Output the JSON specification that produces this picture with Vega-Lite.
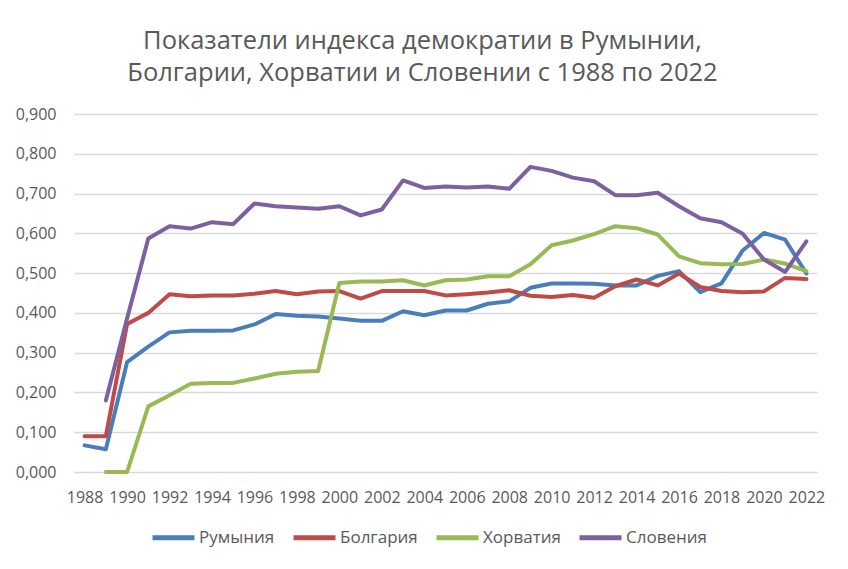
{
  "$schema": "https://vega.github.io/schema/vega-lite/v6.json",
  "width": 743,
  "height": 358,
  "autosize": {"type": "none"},
  "padding": {"left": 74, "top": 114, "right": 31, "bottom": 97},
  "background": "white",
  "config": {
    "font": "Open Sans",
    "view": {"stroke": null}
  },
  "title": {
    "text": ["Показатели индекса демократии в Румынии,", "Болгарии, Хорватии и Словении с 1988 по 2022"],
    "font": "Open Sans",
    "fontSize": 25.5,
    "fontWeight": "normal",
    "color": "#595959",
    "anchor": "middle",
    "frame": "group",
    "dx": -23,
    "offset": 20,
    "lineHeight": 32
  },
  "datasets": {
    "d": [
      {"year": 1988, "country": "Румыния", "value": 0.067},
      {"year": 1989, "country": "Румыния", "value": 0.057},
      {"year": 1990, "country": "Румыния", "value": 0.276},
      {"year": 1991, "country": "Румыния", "value": 0.315},
      {"year": 1992, "country": "Румыния", "value": 0.351},
      {"year": 1993, "country": "Румыния", "value": 0.355},
      {"year": 1994, "country": "Румыния", "value": 0.355},
      {"year": 1995, "country": "Румыния", "value": 0.356},
      {"year": 1996, "country": "Румыния", "value": 0.371},
      {"year": 1997, "country": "Румыния", "value": 0.397},
      {"year": 1998, "country": "Румыния", "value": 0.393},
      {"year": 1999, "country": "Румыния", "value": 0.391},
      {"year": 2000, "country": "Румыния", "value": 0.386},
      {"year": 2001, "country": "Румыния", "value": 0.380},
      {"year": 2002, "country": "Румыния", "value": 0.380},
      {"year": 2003, "country": "Румыния", "value": 0.404},
      {"year": 2004, "country": "Румыния", "value": 0.394},
      {"year": 2005, "country": "Румыния", "value": 0.406},
      {"year": 2006, "country": "Румыния", "value": 0.406},
      {"year": 2007, "country": "Румыния", "value": 0.423},
      {"year": 2008, "country": "Румыния", "value": 0.429},
      {"year": 2009, "country": "Румыния", "value": 0.463},
      {"year": 2010, "country": "Румыния", "value": 0.474},
      {"year": 2011, "country": "Румыния", "value": 0.474},
      {"year": 2012, "country": "Румыния", "value": 0.473},
      {"year": 2013, "country": "Румыния", "value": 0.469},
      {"year": 2014, "country": "Румыния", "value": 0.469},
      {"year": 2015, "country": "Румыния", "value": 0.493},
      {"year": 2016, "country": "Румыния", "value": 0.505},
      {"year": 2017, "country": "Румыния", "value": 0.452},
      {"year": 2018, "country": "Румыния", "value": 0.474},
      {"year": 2019, "country": "Румыния", "value": 0.557},
      {"year": 2020, "country": "Румыния", "value": 0.601},
      {"year": 2021, "country": "Румыния", "value": 0.584},
      {"year": 2022, "country": "Румыния", "value": 0.499},

      {"year": 1988, "country": "Болгария", "value": 0.090},
      {"year": 1989, "country": "Болгария", "value": 0.090},
      {"year": 1990, "country": "Болгария", "value": 0.372},
      {"year": 1991, "country": "Болгария", "value": 0.400},
      {"year": 1992, "country": "Болгария", "value": 0.447},
      {"year": 1993, "country": "Болгария", "value": 0.442},
      {"year": 1994, "country": "Болгария", "value": 0.444},
      {"year": 1995, "country": "Болгария", "value": 0.444},
      {"year": 1996, "country": "Болгария", "value": 0.448},
      {"year": 1997, "country": "Болгария", "value": 0.455},
      {"year": 1998, "country": "Болгария", "value": 0.447},
      {"year": 1999, "country": "Болгария", "value": 0.454},
      {"year": 2000, "country": "Болгария", "value": 0.455},
      {"year": 2001, "country": "Болгария", "value": 0.436},
      {"year": 2002, "country": "Болгария", "value": 0.455},
      {"year": 2003, "country": "Болгария", "value": 0.455},
      {"year": 2004, "country": "Болгария", "value": 0.455},
      {"year": 2005, "country": "Болгария", "value": 0.444},
      {"year": 2006, "country": "Болгария", "value": 0.447},
      {"year": 2007, "country": "Болгария", "value": 0.451},
      {"year": 2008, "country": "Болгария", "value": 0.457},
      {"year": 2009, "country": "Болгария", "value": 0.443},
      {"year": 2010, "country": "Болгария", "value": 0.440},
      {"year": 2011, "country": "Болгария", "value": 0.445},
      {"year": 2012, "country": "Болгария", "value": 0.438},
      {"year": 2013, "country": "Болгария", "value": 0.467},
      {"year": 2014, "country": "Болгария", "value": 0.484},
      {"year": 2015, "country": "Болгария", "value": 0.469},
      {"year": 2016, "country": "Болгария", "value": 0.499},
      {"year": 2017, "country": "Болгария", "value": 0.465},
      {"year": 2018, "country": "Болгария", "value": 0.455},
      {"year": 2019, "country": "Болгария", "value": 0.452},
      {"year": 2020, "country": "Болгария", "value": 0.454},
      {"year": 2021, "country": "Болгария", "value": 0.488},
      {"year": 2022, "country": "Болгария", "value": 0.485},

      {"year": 1989, "country": "Хорватия", "value": 0.0},
      {"year": 1990, "country": "Хорватия", "value": 0.0},
      {"year": 1991, "country": "Хорватия", "value": 0.165},
      {"year": 1992, "country": "Хорватия", "value": 0.193},
      {"year": 1993, "country": "Хорватия", "value": 0.222},
      {"year": 1994, "country": "Хорватия", "value": 0.224},
      {"year": 1995, "country": "Хорватия", "value": 0.224},
      {"year": 1996, "country": "Хорватия", "value": 0.235},
      {"year": 1997, "country": "Хорватия", "value": 0.247},
      {"year": 1998, "country": "Хорватия", "value": 0.252},
      {"year": 1999, "country": "Хорватия", "value": 0.254},
      {"year": 2000, "country": "Хорватия", "value": 0.475},
      {"year": 2001, "country": "Хорватия", "value": 0.479},
      {"year": 2002, "country": "Хорватия", "value": 0.479},
      {"year": 2003, "country": "Хорватия", "value": 0.482},
      {"year": 2004, "country": "Хорватия", "value": 0.469},
      {"year": 2005, "country": "Хорватия", "value": 0.482},
      {"year": 2006, "country": "Хорватия", "value": 0.484},
      {"year": 2007, "country": "Хорватия", "value": 0.492},
      {"year": 2008, "country": "Хорватия", "value": 0.492},
      {"year": 2009, "country": "Хорватия", "value": 0.522},
      {"year": 2010, "country": "Хорватия", "value": 0.570},
      {"year": 2011, "country": "Хорватия", "value": 0.582},
      {"year": 2012, "country": "Хорватия", "value": 0.598},
      {"year": 2013, "country": "Хорватия", "value": 0.618},
      {"year": 2014, "country": "Хорватия", "value": 0.613},
      {"year": 2015, "country": "Хорватия", "value": 0.597},
      {"year": 2016, "country": "Хорватия", "value": 0.542},
      {"year": 2017, "country": "Хорватия", "value": 0.525},
      {"year": 2018, "country": "Хорватия", "value": 0.522},
      {"year": 2019, "country": "Хорватия", "value": 0.523},
      {"year": 2020, "country": "Хорватия", "value": 0.534},
      {"year": 2021, "country": "Хорватия", "value": 0.524},
      {"year": 2022, "country": "Хорватия", "value": 0.505},

      {"year": 1989, "country": "Словения", "value": 0.180},
      {"year": 1990, "country": "Словения", "value": 0.386},
      {"year": 1991, "country": "Словения", "value": 0.587},
      {"year": 1992, "country": "Словения", "value": 0.618},
      {"year": 1993, "country": "Словения", "value": 0.612},
      {"year": 1994, "country": "Словения", "value": 0.628},
      {"year": 1995, "country": "Словения", "value": 0.623},
      {"year": 1996, "country": "Словения", "value": 0.675},
      {"year": 1997, "country": "Словения", "value": 0.668},
      {"year": 1998, "country": "Словения", "value": 0.665},
      {"year": 1999, "country": "Словения", "value": 0.662},
      {"year": 2000, "country": "Словения", "value": 0.668},
      {"year": 2001, "country": "Словения", "value": 0.645},
      {"year": 2002, "country": "Словения", "value": 0.660},
      {"year": 2003, "country": "Словения", "value": 0.733},
      {"year": 2004, "country": "Словения", "value": 0.714},
      {"year": 2005, "country": "Словения", "value": 0.718},
      {"year": 2006, "country": "Словения", "value": 0.715},
      {"year": 2007, "country": "Словения", "value": 0.718},
      {"year": 2008, "country": "Словения", "value": 0.712},
      {"year": 2009, "country": "Словения", "value": 0.767},
      {"year": 2010, "country": "Словения", "value": 0.757},
      {"year": 2011, "country": "Словения", "value": 0.740},
      {"year": 2012, "country": "Словения", "value": 0.731},
      {"year": 2013, "country": "Словения", "value": 0.696},
      {"year": 2014, "country": "Словения", "value": 0.696},
      {"year": 2015, "country": "Словения", "value": 0.702},
      {"year": 2016, "country": "Словения", "value": 0.668},
      {"year": 2017, "country": "Словения", "value": 0.638},
      {"year": 2018, "country": "Словения", "value": 0.628},
      {"year": 2019, "country": "Словения", "value": 0.599},
      {"year": 2020, "country": "Словения", "value": 0.534},
      {"year": 2021, "country": "Словения", "value": 0.503},
      {"year": 2022, "country": "Словения", "value": 0.580}
    ]
  },
  "data": {"name": "d"},
  "mark": {"type": "line", "strokeWidth": 4, "strokeCap": "round", "strokeJoin": "round"},
  "encoding": {
    "x": {
      "field": "year",
      "type": "quantitative",
      "scale": {"domain": [1987.5, 2022.5], "nice": false, "zero": false},
      "axis": {
        "title": null,
        "values": [1988, 1990, 1992, 1994, 1996, 1998, 2000, 2002, 2004, 2006, 2008, 2010, 2012, 2014, 2016, 2018, 2020, 2022],
        "format": "d",
        "grid": false,
        "domain": false,
        "ticks": false,
        "labelFont": "Open Sans",
        "labelFontSize": 16,
        "labelColor": "#595959",
        "labelPadding": 17,
        "labelOverlap": false,
        "labelFlush": false
      }
    },
    "y": {
      "field": "value",
      "type": "quantitative",
      "scale": {"domain": [0, 0.9], "nice": false},
      "axis": {
        "title": null,
        "values": [0, 0.1, 0.2, 0.3, 0.4, 0.5, 0.6, 0.7, 0.8, 0.9],
        "labelExpr": "replace(format(datum.value, '.3f'), '.', ',')",
        "grid": true,
        "gridColor": "#d9d9d9",
        "gridWidth": 1.5,
        "domain": false,
        "ticks": false,
        "labelFont": "Open Sans",
        "labelFontSize": 16,
        "labelColor": "#595959",
        "labelPadding": 18
      }
    },
    "color": {
      "field": "country",
      "type": "nominal",
      "scale": {
        "domain": ["Румыния", "Болгария", "Хорватия", "Словения"],
        "range": ["#4a7ebb", "#be4b48", "#98b954", "#7d60a0"]
      },
      "legend": {
        "title": null,
        "orient": "none",
        "direction": "horizontal",
        "legendX": 76,
        "legendY": 400,
        "symbolType": "stroke",
        "symbolSize": 1764,
        "symbolStrokeWidth": 5,
        "labelFont": "Open Sans",
        "labelFontSize": 17,
        "labelColor": "#595959",
        "labelOffset": 2,
        "columnPadding": 8
      }
    }
  }
}
